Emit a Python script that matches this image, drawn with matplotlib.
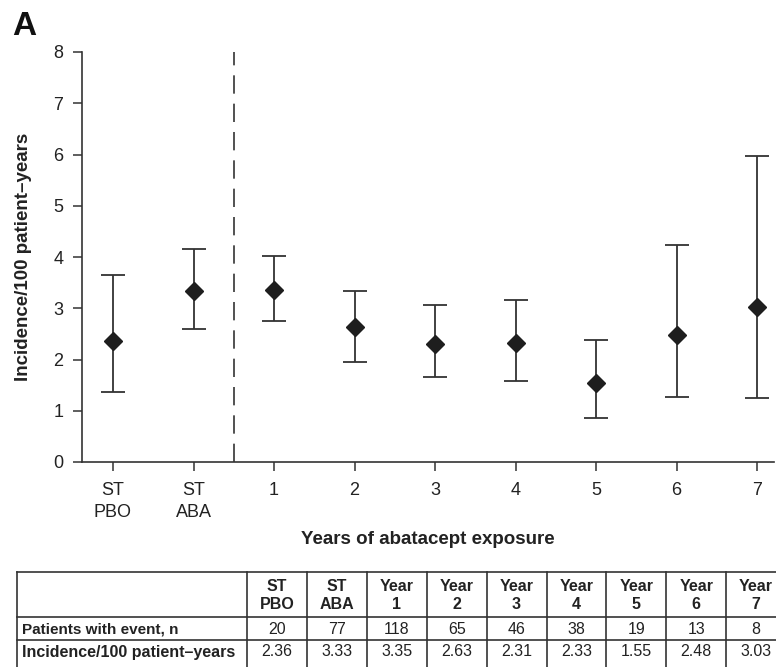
import numpy as np
import matplotlib.pyplot as plt
from matplotlib.lines import Line2D

plt.rcParams['font.family'] = ['Liberation Sans', 'DejaVu Sans']

# groups on the x axis
groups = ['ST\nPBO', 'ST\nABA', '1', '2', '3', '4', '5', '6', '7']
table_heads = ['ST\nPBO', 'ST\nABA', 'Year\n1', 'Year\n2', 'Year\n3',
               'Year\n4', 'Year\n5', 'Year\n6', 'Year\n7']
# incidence/100 patient-years and 95% CI
incidence = [2.36, 3.33, 3.35, 2.63, 2.31, 2.33, 1.55, 2.48, 3.03]
ci_low = [1.37, 2.60, 2.75, 1.96, 1.65, 1.58, 0.86, 1.26, 1.24]
ci_high = [3.64, 4.16, 4.01, 3.34, 3.06, 3.17, 2.38, 4.24, 5.98]
n_events = [20, 77, 118, 65, 46, 38, 19, 13, 8]
row_labels = ['Patients with event, n', 'Incidence/100 patient\u2013years']

W, H = 776, 667
fig = plt.figure(figsize=(W / 100, H / 100), dpi=100)
ax = fig.add_axes([82 / W, 1 - 462 / H, 692 / W, 410 / H])

dark = '#1e1e1e'
x = np.arange(len(groups))
inc = np.array(incidence)
yerr = [inc - np.array(ci_low), np.array(ci_high) - inc]
ax.errorbar(x, inc, yerr=yerr, fmt='D', ms=9.3, color=dark, ecolor='#333333',
            elinewidth=1.3, capsize=8.3, capthick=1.3, zorder=3)
ax.axvline(1.5, ymin=0, ymax=1, color='#333333', lw=1.2, dashes=(11, 6))

ax.set_xlim(-0.385, 8.21)
ax.set_ylim(0, 8)
ax.set_yticks(range(0, 9))
ax.set_xticks(x)
ax.set_xticklabels(groups, linespacing=1.4)
for s in ['top', 'right']:
    ax.spines[s].set_visible(False)
for s in ['left', 'bottom']:
    ax.spines[s].set_linewidth(1.2)
    ax.spines[s].set_color('#333333')
ax.tick_params(axis='both', direction='out', length=6.5, width=1.1, color='#333333',
               labelsize=13, labelcolor='#222222')
ax.tick_params(axis='x', pad=8)
ax.tick_params(axis='y', pad=7)
ax.set_ylabel('Incidence/100 patient\u2013years', fontsize=13.5, fontweight='bold',
              color='#222222', labelpad=15)
ax.set_xlabel('Years of abatacept exposure', fontsize=13.5, fontweight='bold',
              color='#222222', labelpad=7)

fig.text(12 / W, 1 - 35 / H, 'A', fontsize=24, fontweight='bold', color='#111111')

# table underneath, laid out in pixel coordinates
tx = fig.add_axes([0, 0, 1, 1], zorder=-1)
tx.set_xlim(0, W)
tx.set_ylim(H, 0)
tx.axis('off')
col_edges = [17, 247] + [247 + 59.9 * (i + 1) for i in range(len(table_heads))]
row_edges = [572, 617, 640, 690]
lc = '#333333'
for xe in col_edges:
    tx.add_line(Line2D([xe, xe], [row_edges[0], row_edges[-1]], color=lc, lw=1.2))
for ye in row_edges:
    tx.add_line(Line2D([col_edges[0], col_edges[-1]], [ye, ye], color=lc, lw=1.2))

for i, head in enumerate(table_heads):
    cx = (col_edges[i + 1] + col_edges[i + 2]) / 2
    tx.text(cx, (row_edges[0] + row_edges[1]) / 2 + 1, head, ha='center', va='center',
            fontsize=11.5, fontweight='bold', color='#222222', linespacing=1.3)
    tx.text(cx, (row_edges[1] + row_edges[2]) / 2 + 1, str(n_events[i]), ha='center',
            va='center', fontsize=11.5, color='#222222')
    tx.text(cx, 652, f'{incidence[i]:.2f}', ha='center', va='center',
            fontsize=11.5, color='#222222')
tx.text(22, (row_edges[1] + row_edges[2]) / 2 + 1, row_labels[0], ha='left', va='center',
        fontsize=11, fontweight='bold', color='#222222')
tx.text(22, 652, row_labels[1], ha='left', va='center',
        fontsize=11.5, fontweight='bold', color='#222222')

fig.savefig('out.png', dpi=100)
